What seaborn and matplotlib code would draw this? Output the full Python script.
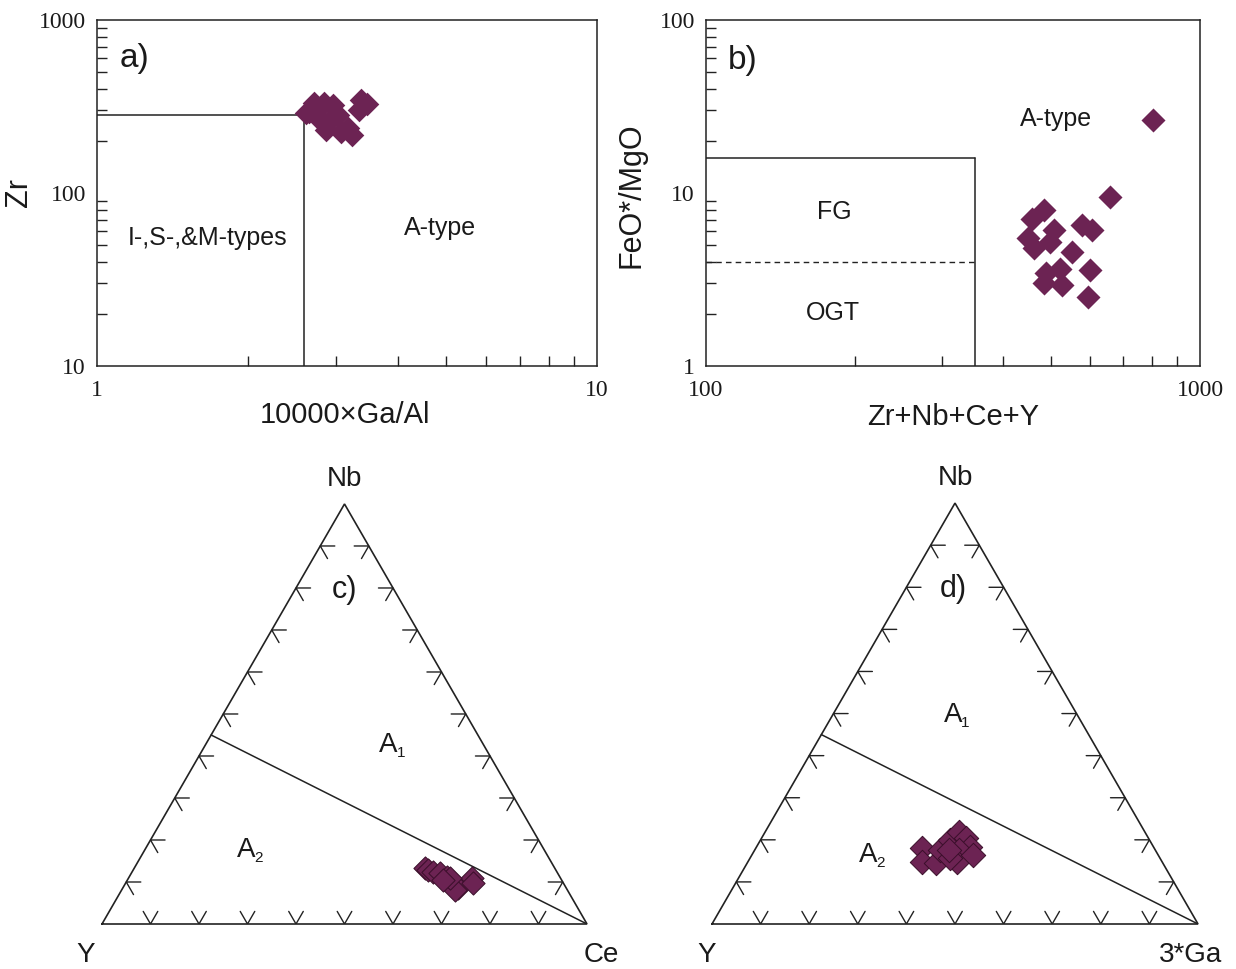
import numpy as np
import pandas as pd
import matplotlib
matplotlib.use("Agg")
import matplotlib.pyplot as plt
import seaborn as sns
from matplotlib.ticker import LogLocator, FixedFormatter, FixedLocator, NullFormatter

# ---------------- data ----------------
# a) Zr vs 10000*Ga/Al
ga_al = [2.62, 2.72, 2.85, 2.97, 2.75, 2.90, 3.04, 3.18, 3.23, 3.38, 3.46, 3.34, 3.08, 2.65, 2.87]
zr    = [290, 331, 331, 323, 275, 257, 282, 237, 216, 345, 327, 302, 225, 293, 230]

# b) FeO*/MgO vs Zr+Nb+Ce+Y
zncy  = [805, 658, 483, 457, 506, 577, 605, 448, 461, 497, 551, 488, 521, 600, 483, 526, 594]
feo_mgo = [26.3, 9.46, 8.0, 7.1, 6.15, 6.5, 6.15, 5.46, 4.78, 5.23, 4.58, 3.44, 3.62, 3.59, 3.01, 2.94, 2.52]

# c) Y - Nb - Ce ternary (fractions)
c_nb = [0.133, 0.129, 0.124, 0.121, 0.112, 0.100, 0.086, 0.081, 0.110, 0.098, 0.110, 0.105]
c_ce = [0.600, 0.608, 0.620, 0.636, 0.655, 0.674, 0.691, 0.687, 0.708, 0.716, 0.663, 0.651]

# d) Y - Nb - 3*Ga ternary (fractions)
d_nb = [0.180, 0.148, 0.144, 0.176, 0.200, 0.219, 0.204, 0.184, 0.176, 0.148, 0.164, 0.156, 0.176]
d_ga = [0.343, 0.359, 0.389, 0.381, 0.390, 0.398, 0.421, 0.438, 0.420, 0.430, 0.455, 0.412, 0.399]

# boundaries
a_div_x, a_div_y = 2.6, 282
b_box_x, b_box_y, b_dash_y = 350, 16, 4
tern_div_nb = 0.45   # A1/A2 divide on Y-Nb side, to the right apex

COLOR = "#6C2353"
EDGE = "#3A0F2A"

sns.set_style("white")
plt.rcParams["font.family"] = ["Liberation Sans", "DejaVu Sans"]

W, H = 1236, 969
fig = plt.figure(figsize=(W / 100, H / 100), dpi=100)


def ax_rect(x0, y0, x1, y1):
    return [x0 / W, 1 - y1 / H, (x1 - x0) / W, (y1 - y0) / H]


TXT = "#1a1a1a"
SERIF = "Liberation Serif"


def style_log(ax, xmaj, ymaj):
    for s in ax.spines.values():
        s.set_color("#222222")
        s.set_linewidth(1.1)
    ax.tick_params(which="both", direction="in", top=False, right=False,
                   bottom=True, left=True, color="#222222", width=1.0)
    ax.tick_params(which="major", length=0)
    ax.tick_params(which="minor", length=7)
    ax.tick_params(axis="x", which="major", pad=10)
    ax.tick_params(axis="y", which="major", pad=8)
    ax.xaxis.set_major_locator(FixedLocator(xmaj))
    ax.yaxis.set_major_locator(FixedLocator(ymaj))
    ax.xaxis.set_major_formatter(FixedFormatter([str(v) for v in xmaj]))
    ax.yaxis.set_major_formatter(FixedFormatter([str(v) for v in ymaj]))
    ax.xaxis.set_minor_locator(LogLocator(base=10, subs=np.arange(2, 10)))
    ax.yaxis.set_minor_locator(LogLocator(base=10, subs=np.arange(2, 10)))
    ax.xaxis.set_minor_formatter(NullFormatter())
    ax.yaxis.set_minor_formatter(NullFormatter())
    for lab in ax.get_xticklabels() + ax.get_yticklabels():
        lab.set_fontfamily(SERIF)
        lab.set_fontsize(17)
        lab.set_color(TXT)


def sub_label(ax, x, y, main, sub, transform=None, size=20, subsize=11):
    kw = {} if transform is None else {"transform": transform}
    ax.text(x, y, main, fontsize=size, color=TXT, ha="center", va="center", **kw)
    ax.annotate(sub, (x, y), xycoords=("data" if transform is None else transform),
                xytext=(9, -6), textcoords="offset points", fontsize=subsize,
                color=TXT, ha="center", va="center")


# ---------------- a) ----------------
axa = fig.add_axes(ax_rect(97, 20, 597, 366))
axa.set_xscale("log")
axa.set_yscale("log")
axa.set_xlim(1, 10)
axa.set_ylim(10, 1000)
axa.plot([1, a_div_x], [a_div_y, a_div_y], color="#222222", lw=1.1)
axa.plot([a_div_x, a_div_x], [10, a_div_y], color="#222222", lw=1.1)
dfa = pd.DataFrame({"x": ga_al, "y": zr})
sns.scatterplot(data=dfa, x="x", y="y", ax=axa, marker="D", s=145,
                color=COLOR, edgecolor=COLOR, linewidth=0, zorder=5)
style_log(axa, [1, 10], [10, 100, 1000])
axa.set_xlabel("10000×Ga/Al", fontsize=21, color=TXT)
axa.set_ylabel("Zr", fontsize=22, color=TXT)
axa.xaxis.set_label_coords(0.496, -0.1)
axa.yaxis.set_label_coords(-0.125, 0.5)
axa.text(0.045, 0.89, "a)", transform=axa.transAxes, fontsize=24, color=TXT,
         ha="left", va="center")
axa.text(0.222, 0.369, "I-,S-,&M-types", transform=axa.transAxes, fontsize=18,
         color=TXT, ha="center", va="center")
axa.text(0.686, 0.399, "A-type", transform=axa.transAxes, fontsize=18,
         color=TXT, ha="center", va="center")

# ---------------- b) ----------------
axb = fig.add_axes(ax_rect(706, 20, 1200, 366))
axb.set_xscale("log")
axb.set_yscale("log")
axb.set_xlim(100, 1000)
axb.set_ylim(1, 100)
axb.plot([100, b_box_x], [b_box_y, b_box_y], color="#222222", lw=1.1)
axb.plot([b_box_x, b_box_x], [1, b_box_y], color="#222222", lw=1.1)
axb.plot([100, b_box_x], [b_dash_y, b_dash_y], color="#222222", lw=1.0,
         ls=(0, (4, 3)))
dfb = pd.DataFrame({"x": zncy, "y": feo_mgo})
sns.scatterplot(data=dfb, x="x", y="y", ax=axb, marker="D", s=150,
                color=COLOR, edgecolor=COLOR, linewidth=0, zorder=5)
style_log(axb, [100, 1000], [1, 10, 100])
axb.set_xlabel("Zr+Nb+Ce+Y", fontsize=21, color=TXT)
axb.set_ylabel("FeO*/MgO", fontsize=22, color=TXT)
axb.xaxis.set_label_coords(0.5, -0.108)
axb.yaxis.set_label_coords(-0.12, 0.494)
axb.text(0.045, 0.884, "b)", transform=axb.transAxes, fontsize=24, color=TXT,
         ha="left", va="center")
axb.text(0.709, 0.714, "A-type", transform=axb.transAxes, fontsize=18,
         color=TXT, ha="center", va="center")
axb.text(0.26, 0.445, "FG", transform=axb.transAxes, fontsize=18,
         color=TXT, ha="center", va="center")
axb.text(0.257, 0.153, "OGT", transform=axb.transAxes, fontsize=18,
         color=TXT, ha="center", va="center")

# ---------------- ternaries ----------------
S3 = np.sqrt(3) / 2


def tern_xy(right, top):
    right = np.asarray(right, float)
    top = np.asarray(top, float)
    return right + 0.5 * top, top * S3


def draw_ternary(ax, nb, rt, left_lab, right_lab, panel, a1_pos, a2_pos, ms):
    ax.set_xlim(0, 1)
    ax.set_ylim(0, S3)
    ax.axis("off")
    lc = "#222222"
    ax.plot([0, 1, 0.5, 0], [0, 0, S3, 0], color=lc, lw=1.2, clip_on=False,
            solid_joinstyle="miter")
    L = 0.03
    for i in range(1, 10):
        t = i / 10
        # left edge (Y-Nb)
        px, py = 0.5 * t, t * S3
        ax.plot([px + L, px, px + 0.5 * L], [py, py, py - S3 * L], color=lc, lw=1.0)
        # right edge (right apex - Nb)
        px, py = 1 - 0.5 * t, t * S3
        ax.plot([px - L, px, px - 0.5 * L], [py, py, py - S3 * L], color=lc, lw=1.0)
        # bottom edge
        px = t
        ax.plot([px - 0.5 * L, px, px + 0.5 * L], [S3 * L, 0, S3 * L], color=lc, lw=1.0)
    # A1/A2 divide
    x0, y0 = tern_xy(0, tern_div_nb)
    x1, y1 = tern_xy(1, 0)
    ax.plot([x0, x1], [y0, y1], color=lc, lw=1.1)
    xs, ys = tern_xy(rt, nb)
    df = pd.DataFrame({"x": xs, "y": ys})
    sns.scatterplot(data=df, x="x", y="y", ax=ax, marker="D", s=ms,
                    color=COLOR, edgecolor=EDGE, linewidth=0.7, zorder=5,
                    clip_on=False)
    ax.set_xlabel("")
    ax.set_ylabel("")
    ax.text(0.5, 0.918, "Nb", fontsize=20, color=TXT, ha="center", va="center")
    ax.text(left_lab[1], -0.064, left_lab[0], fontsize=20, color=TXT,
            ha="center", va="center")
    ax.text(right_lab[1], -0.064, right_lab[0], fontsize=20, color=TXT,
            ha="center", va="center")
    ax.text(panel[1], panel[2], panel[0], fontsize=22, color=TXT,
            ha="center", va="center")
    sub_label(ax, a1_pos[0], a1_pos[1], "A", "1")
    sub_label(ax, a2_pos[0], a2_pos[1], "A", "2")


axc = fig.add_axes(ax_rect(102, 924 - 485 * S3, 587, 924))
draw_ternary(axc, c_nb, c_ce, ("Y", -0.033), ("Ce", 1.029),
             ("c)", 0.499, 0.689), (0.59, 0.369), (0.297, 0.153), 140)

axd = fig.add_axes(ax_rect(712, 924 - 486 * S3, 1198, 924))
draw_ternary(axd, d_nb, d_ga, ("Y", -0.012), ("3*Ga", 0.984),
             ("d)", 0.496, 0.689), (0.496, 0.43), (0.321, 0.142), 155)

fig.savefig("out.png", dpi=100, facecolor="white")
